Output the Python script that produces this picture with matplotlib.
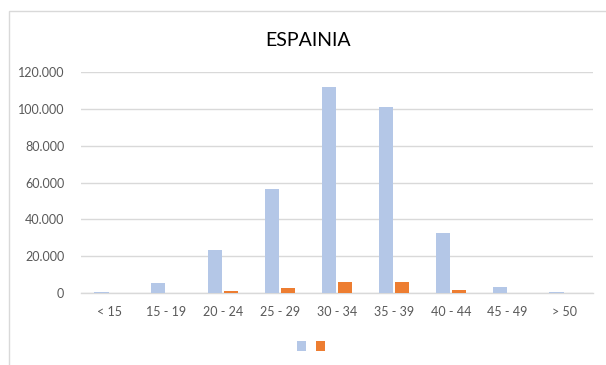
import matplotlib
matplotlib.use("Agg")
import matplotlib.pyplot as plt
from matplotlib.patches import Patch, Rectangle
from matplotlib.ticker import FuncFormatter, MultipleLocator
import numpy as np

# Age groups and the two series per group
categories = ["< 15", "15 - 19", "20 - 24", "25 - 29", "30 - 34",
              "35 - 39", "40 - 44", "45 - 49", "> 50"]
series_blue = [500, 5300, 23500, 56500, 112000, 101000, 32500, 3100, 500]
series_orange = [30, 100, 1100, 2700, 6000, 6000, 1600, 100, 20]
title = "ESPAINIA"

BLUE = "#B4C7E7"
ORANGE = "#ED7D31"
GRID = "#D9D9D9"
TEXT = "#595959"

plt.rcParams["font.family"] = ["Lato", "DejaVu Sans"]

W, H = 606, 365
fig = plt.figure(figsize=(W / 100, H / 100), dpi=100)

# light chart frame (left and top edges visible)
fig.patches.append(Rectangle((8.5 / W, -0.1), 1.2, 1 - 10.5 / H + 0.1,
                             transform=fig.transFigure, fill=False,
                             edgecolor=GRID, linewidth=1.0))

ax = fig.add_axes([81 / W, 1 - 293 / H, (593 - 81) / W, (293 - 72) / H])

x = np.arange(len(categories))
bw = 0.25
ax.bar(x - 0.14, series_blue, width=bw, color=BLUE, zorder=3)
ax.bar(x + 0.14, series_orange, width=bw, color=ORANGE, zorder=3)

ax.set_xlim(-0.5, len(categories) - 0.5)
ax.set_ylim(0, 120000)
ax.yaxis.set_major_locator(MultipleLocator(20000))
ax.yaxis.set_major_formatter(FuncFormatter(
    lambda v, p: "0" if v == 0 else f"{int(v):,}".replace(",", ".")))
ax.set_xticks(x)
ax.set_xticklabels(categories)

ax.grid(axis="y", color=GRID, linewidth=1.0, zorder=0)
for s in ["top", "right", "left"]:
    ax.spines[s].set_visible(False)
ax.spines["bottom"].set_color(GRID)
ax.spines["bottom"].set_linewidth(1.0)
ax.tick_params(axis="both", length=0, colors=TEXT, labelsize=9)
ax.tick_params(axis="x", pad=9)
ax.tick_params(axis="y", pad=12)

fig.text(308 / W, 1 - 40 / H, title, ha="center", va="center",
         fontsize=14, color="#000000")

handles = [Patch(facecolor=BLUE), Patch(facecolor=ORANGE)]
fig.legend(handles, ["", ""], loc="center", ncol=2, frameon=False,
           bbox_to_anchor=(311 / W, 1 - 347 / H), fontsize=10,
           handlelength=0.65, handleheight=0.65, handletextpad=0,
           columnspacing=0.72)

fig.savefig("out.png", dpi=100)
